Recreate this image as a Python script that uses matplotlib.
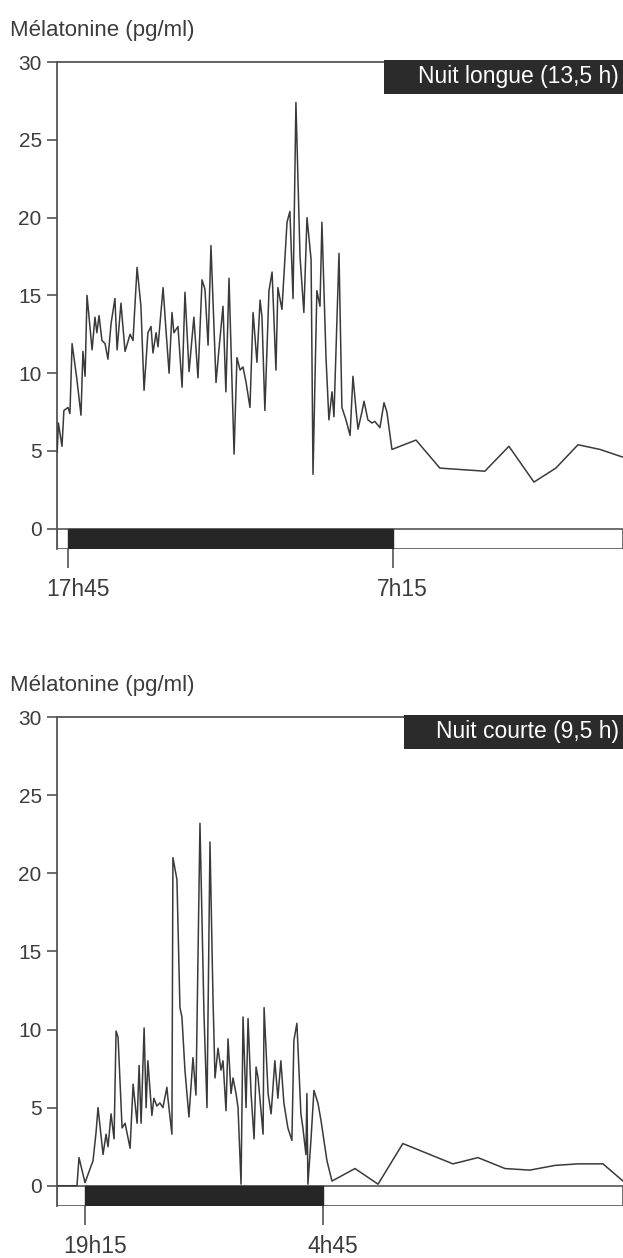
import matplotlib.pyplot as plt
from matplotlib.patches import Rectangle

plt.rcParams['font.family'] = ['Liberation Sans', 'DejaVu Sans']

# heures apres le debut de la nuit (17h45) et melatonine (pg/ml)
t_longue = [-0.45, -0.40, -0.25, -0.17, 0.00, 0.08, 0.17, 0.37, 0.54, 0.62, 0.71, 0.79,
            1.00, 1.12, 1.20, 1.29, 1.41, 1.54, 1.66, 1.79, 1.95, 2.04, 2.20, 2.37,
            2.58, 2.70, 2.87, 3.03, 3.16, 3.32, 3.45, 3.53, 3.66, 3.74, 3.95, 4.07,
            4.20, 4.32, 4.40, 4.57, 4.74, 4.86, 5.03, 5.23, 5.40, 5.57, 5.69, 5.82,
            5.94, 6.15, 6.27, 6.44, 6.56, 6.69, 6.90, 7.02, 7.15, 7.27, 7.40, 7.56,
            7.69, 7.85, 7.98, 8.06, 8.18, 8.35, 8.48, 8.64, 8.72, 8.89, 9.10, 9.22,
            9.35, 9.47, 9.64, 9.80, 9.93, 10.10, 10.18, 10.34, 10.47, 10.55, 10.72,
            10.84, 10.97, 11.05, 11.26, 11.38, 11.55, 11.72, 11.84, 11.97, 12.05,
            12.21, 12.30, 12.46, 12.63, 12.75, 12.96, 13.13, 13.25, 13.46,
            14.46, 15.45, 17.32, 18.32, 19.36, 20.27, 21.19, 22.10, 23.06]
m_longue = [4.9, 6.8, 5.3, 7.6, 7.8, 7.4, 11.9, 9.6, 7.3, 11.4, 9.8, 15.0,
            11.5, 13.6, 12.6, 13.7, 12.1, 11.9, 10.9, 13.2, 14.8, 11.5, 14.5, 11.4,
            12.5, 12.1, 16.8, 14.3, 8.9, 12.6, 13.0, 11.3, 12.6, 11.7, 15.5, 12.8,
            10.0, 13.9, 12.6, 13.0, 9.1, 15.2, 10.1, 13.6, 9.7, 16.0, 15.4, 11.8,
            18.2, 9.4, 11.5, 14.3, 8.8, 16.1, 4.8, 11.0, 10.2, 10.4, 9.4, 7.8,
            13.9, 10.7, 14.7, 13.6, 7.6, 15.3, 16.5, 10.2, 15.5, 14.1, 19.7, 20.4,
            14.8, 27.4, 17.5, 13.9, 20.0, 17.3, 3.5, 15.3, 14.3, 19.7, 11.0,
            7.0, 8.8, 7.2, 17.7, 7.8, 7.0, 6.0, 9.8, 7.6, 6.4,
            7.5, 8.2, 7.0, 6.8, 6.9, 6.5, 8.1, 7.5, 5.1,
            5.7, 3.9, 3.7, 5.3, 3.0, 3.9, 5.4, 5.1, 4.6]

# heures apres le debut de la nuit (19h15)
t_courte = [-1.10, -0.32, -0.24, 0.00, 0.32, 0.44, 0.52, 0.72, 0.84, 0.92, 1.04, 1.16,
            1.24, 1.32, 1.48, 1.60, 1.80, 1.92, 2.08, 2.16, 2.24, 2.36, 2.44, 2.51,
            2.67, 2.75, 2.87, 2.99, 3.11, 3.27, 3.31, 3.47, 3.51, 3.67, 3.79, 3.87,
            3.99, 4.15, 4.31, 4.43, 4.59, 4.75, 4.87, 4.99, 5.11, 5.19, 5.31, 5.43,
            5.51, 5.63, 5.71, 5.83, 5.91, 6.03, 6.11, 6.23, 6.31, 6.43, 6.51, 6.63,
            6.75, 6.83, 6.91, 7.11, 7.15, 7.31, 7.43, 7.58, 7.70, 7.82, 7.94, 8.10,
            8.26, 8.34, 8.46, 8.62, 8.70, 8.82, 8.86, 8.90, 9.02, 9.14, 9.30, 9.42,
            9.66, 9.86, 10.78, 11.70, 12.69, 14.69, 15.69, 16.77, 17.76, 18.76,
            19.68, 20.68, 21.48]
m_courte = [0.0, 0.0, 1.8, 0.2, 1.6, 3.4, 5.0, 2.0, 3.3, 2.5, 4.6, 3.0,
            9.9, 9.5, 3.7, 4.0, 2.4, 6.5, 4.0, 7.7, 4.0, 10.1, 5.0, 8.0,
            4.5, 5.6, 5.1, 5.3, 5.0, 6.3, 5.6, 3.3, 21.0, 19.6, 11.4, 10.8,
            7.4, 4.4, 8.2, 5.8, 23.2, 11.0, 5.0, 22.0, 12.0, 6.9, 8.8, 7.4,
            8.0, 4.8, 9.4, 5.9, 6.9, 5.9, 5.0, 0.1, 10.8, 5.0, 10.7, 5.9,
            3.0, 7.6, 6.9, 3.3, 11.4, 5.9, 4.6, 8.0, 5.6, 8.0, 5.3, 3.7,
            2.9, 9.3, 10.4, 4.6, 3.7, 2.0, 5.9, 0.1, 2.9, 6.1, 5.3, 4.2,
            1.6, 0.3, 1.1, 0.1, 2.7, 1.4, 1.8, 1.1, 1.0, 1.3,
            1.4, 1.4, 0.3]

panneaux = [
    dict(t=t_longue, m=m_longue, nuit=13.5, ticks=['17h45', '7h15'],
         titre='Nuit longue (13,5 h)', xlim=(-0.457, 23.06)),
    dict(t=t_courte, m=m_courte, nuit=9.5, ticks=['19h15', '4h45'],
         titre='Nuit courte (9,5 h)', xlim=(-1.118, 21.48)),
]

fig = plt.figure(figsize=(6.23, 12.58), dpi=100)
gris = '#555555'
texte = '#3c3c3c'
positions = [[0.0915, 0.5636, 0.9085, 0.3871], [0.0915, 0.0413, 0.9085, 0.3887]]
ylabel_y = [1 - 36 / 1258, 1 - 691 / 1258]
box_x = [0.578, 0.613]

for i, p in enumerate(panneaux):
    ax = fig.add_axes(positions[i])
    ymin = -1.3
    ax.set_xlim(*p['xlim'])
    ax.set_ylim(ymin, 30)

    # barre jour / nuit
    ax.add_patch(Rectangle((p['xlim'][0], ymin), p['xlim'][1] - p['xlim'][0], -ymin,
                           fc='white', ec=gris, lw=1.2, zorder=1))
    ax.add_patch(Rectangle((0, ymin), p['nuit'], -ymin, fc='#262626', ec='#262626',
                           lw=1.0, zorder=2))

    ax.plot(p['t'], p['m'], color='#3a3a3a', lw=1.1, zorder=3, clip_on=True)

    for s in ['right', 'bottom']:
        ax.spines[s].set_visible(False)
    for s in ['left', 'top']:
        ax.spines[s].set_color(gris)
        ax.spines[s].set_linewidth(1.3)

    ax.set_yticks([0, 5, 10, 15, 20, 25, 30])
    ax.tick_params(axis='y', direction='out', length=7, width=1.2, color=gris,
                   labelsize=15, labelcolor=texte, pad=4)
    ax.set_xticks([0, p['nuit']])
    ax.set_xticklabels([])
    ax.tick_params(axis='x', direction='out', length=14, width=1.2, color=gris)
    ax.xaxis.set_ticks_position('bottom')
    for x, lab in zip([0, p['nuit']], p['ticks']):
        ax.annotate(lab, xy=(x, 0), xycoords=('data', 'axes fraction'),
                    xytext=(7, -33.5), textcoords='offset points', ha='center',
                    va='baseline', fontsize=16.5, color=texte)

    # etiquette
    ax.add_patch(Rectangle((box_x[i], 0.935), 1 - box_x[i], 0.069,
                           transform=ax.transAxes, fc='#2b2b2b', ec='none',
                           clip_on=False, zorder=5))
    ax.text(0.993, 0.97, p['titre'], transform=ax.transAxes, ha='right',
            va='center', color='white', fontsize=16.5, zorder=6)

    fig.text(0.016, ylabel_y[i], 'Mélatonine (pg/ml)', fontsize=16,
             color=texte, ha='left', va='baseline')

fig.savefig('out.png', dpi=100)
